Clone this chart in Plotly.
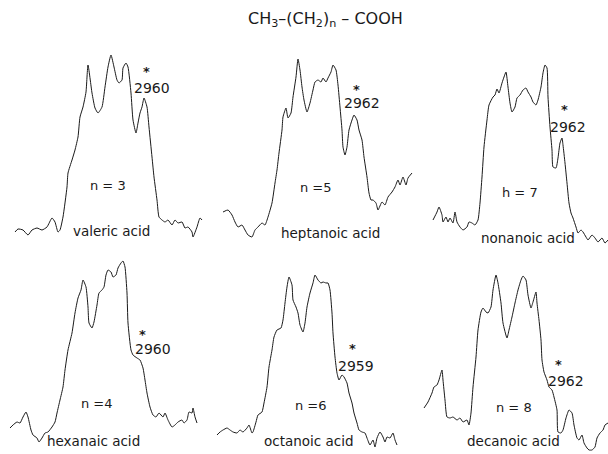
import plotly.graph_objects as go

# Traced spectra (horizontal position, signal level)
valeric_x = [15,18,23,28,32,37,42,47,52,55,58,60,63,67,68,72,75,78,80,83,86,88,92,95,98,102,105,108,111,114,117,119,122,123,126,128,131,133,136,138,140,142,144,147,149,152,154,157,159,162,165,168,172,175,178,182,185,188,192,193,197,200,202]
valeric_y = [232,229,230,235,230,228,230,227,218,222,232,230,217,187,173,160,150,137,117,107,92,65,93,108,113,107,87,67,55,67,80,83,80,68,63,67,93,120,133,123,113,107,98,107,127,157,177,200,217,220,222,220,225,220,223,222,228,227,232,237,227,218,220]

heptanoic_x = [223,228,232,235,238,242,245,248,252,255,258,262,265,268,272,275,277,279,282,283,286,288,291,293,296,298,300,302,304,307,310,313,315,318,321,323,326,328,331,333,336,338,340,342,343,345,347,349,352,354,357,359,362,364,367,369,371,373,376,378,382,385,388,392,395,398,400,403,406,408,412]
heptanoic_y = [212,210,215,222,227,225,230,235,237,230,227,223,225,217,203,183,170,153,130,117,108,118,113,97,77,59,70,87,100,112,103,90,82,80,82,78,82,78,72,65,70,85,107,130,147,155,147,130,120,115,120,130,140,157,177,193,200,200,203,210,202,205,197,192,187,180,185,177,185,178,173]

nonanoic_x = [433,437,439,442,443,446,448,450,453,455,457,460,463,467,469,472,475,478,480,482,484,487,489,493,495,497,499,502,504,506,508,510,512,515,517,520,523,526,528,531,533,536,538,541,543,545,547,548,550,552,553,556,558,560,562,563,565,567,569,571,573,576,578,581,583,586,588,592,595,598,602,605,608]
nonanoic_y = [220,212,207,215,222,217,222,218,223,212,222,227,230,227,222,223,225,220,203,177,147,120,105,97,95,89,93,83,77,72,87,103,112,107,98,95,90,88,92,97,102,105,100,87,73,65,68,97,127,150,167,168,158,143,138,145,163,183,203,213,218,227,233,230,232,237,240,235,238,242,238,243,240]

hexanoic_x = [10,13,17,20,23,26,28,31,33,37,39,42,45,48,52,55,57,60,63,65,68,72,75,78,81,83,86,88,89,92,94,97,99,102,104,106,108,111,113,116,118,121,123,125,127,128,131,133,137,140,143,145,147,150,153,156,159,163,165,168,172,175,178,182,184,187,189,192,193,195,197]
hexanoic_y = [428,425,422,423,417,412,417,430,435,438,442,438,433,432,427,422,413,400,387,370,350,333,313,298,290,280,287,307,323,328,322,305,293,290,287,275,270,272,277,275,268,263,261,267,293,323,350,355,358,360,368,380,393,407,415,417,413,417,413,420,427,425,422,420,423,420,412,413,408,417,423]

octanoic_x = [217,220,223,227,230,233,237,240,243,247,249,252,253,256,258,262,264,267,269,272,274,277,281,283,285,287,289,292,293,296,298,300,303,305,307,310,313,315,318,321,323,326,328,330,332,333,335,337,339,342,344,347,349,352,354,357,359,362,365,367,370,373,375,377,380,383,385,387,390,393,395,397]
octanoic_y = [435,432,430,428,430,432,433,430,432,428,425,433,432,422,415,412,403,387,367,350,337,330,328,320,303,287,277,285,300,307,313,325,332,323,307,293,283,275,280,283,282,283,283,290,313,333,357,373,380,375,377,383,393,403,413,423,430,432,433,438,445,440,447,438,432,437,442,437,438,433,440,445]

decanoic_x = [424,428,432,434,437,439,442,443,445,447,450,453,457,460,463,467,469,471,473,476,478,481,483,486,488,491,493,496,498,501,503,507,509,512,515,518,521,523,526,528,531,533,536,537,539,541,542,544,547,549,552,554,557,558,561,563,566,569,572,574,577,579,582,584,587,589,592,595,597,600,603,605,608]
decanoic_y = [408,402,393,387,385,380,370,380,400,417,418,417,420,418,422,420,425,413,387,357,330,312,308,312,313,307,290,275,283,303,323,338,330,317,303,290,280,276,280,295,308,302,292,303,320,340,360,372,380,387,390,397,410,432,433,430,418,410,413,425,438,440,435,443,448,450,450,447,438,433,430,425,423]

spectra = [
    ("valeric acid", valeric_x, valeric_y),
    ("heptanoic acid", heptanoic_x, heptanoic_y),
    ("nonanoic acid", nonanoic_x, nonanoic_y),
    ("hexanaic acid", hexanoic_x, hexanoic_y),
    ("octanoic acid", octanoic_x, octanoic_y),
    ("decanoic acid", decanoic_x, decanoic_y),
]

# Labels: name, chain length, marked band
names = ["valeric acid", "heptanoic acid", "nonanoic acid", "hexanaic acid", "octanoic acid", "decanoic acid"]
n_labels = ["n = 3", "n =5", "h = 7", "n =4", "n =6", "n = 8"]
bands = ["2960", "2962", "2962", "2960", "2959", "2962"]

name_pos = [(111, 231), (330, 233), (528, 238), (93, 441), (309, 441), (513, 441)]
n_pos = [(108, 185), (316, 187), (520, 192), (97, 403), (311, 405), (514, 407)]
band_pos = [(152, 88), (362, 103), (568, 127), (153, 349), (356, 366), (566, 381)]
star_pos = [(146, 71), (356, 89), (564, 109), (142, 334), (352, 348), (558, 364)]

fig = go.Figure()
for name, xs, ys in spectra:
    fig.add_trace(go.Scatter(x=xs, y=ys, mode="lines", name=name,
                             line=dict(color="#1a1a1a", width=1, shape="spline", smoothing=0.5),
                             hoverinfo="skip", showlegend=False))

ink = "#1a1a1a"
ann = []
for i in range(6):
    ann.append(dict(x=name_pos[i][0], y=name_pos[i][1], text=names[i], showarrow=False,
                    font=dict(family="DejaVu Sans", size=13.5, color=ink)))
    ann.append(dict(x=n_pos[i][0], y=n_pos[i][1], text=n_labels[i], showarrow=False,
                    font=dict(family="DejaVu Sans", size=13, color=ink)))
    ann.append(dict(x=band_pos[i][0], y=band_pos[i][1], text=bands[i], showarrow=False,
                    font=dict(family="DejaVu Sans", size=14, color=ink)))
    ann.append(dict(x=star_pos[i][0], y=star_pos[i][1], text="<b>*</b>", showarrow=False,
                    font=dict(family="DejaVu Sans", size=13, color=ink)))

ann.append(dict(x=325, y=19, text="CH<sub>3</sub>–(CH<sub>2</sub>)<sub>n</sub> – COOH",
                showarrow=False, font=dict(family="DejaVu Sans", size=16, color=ink)))

fig.update_layout(
    width=608, height=454,
    margin=dict(l=0, r=0, t=0, b=0),
    paper_bgcolor="white", plot_bgcolor="white",
    xaxis=dict(range=[0, 608], visible=False, fixedrange=True),
    yaxis=dict(range=[454, 0], visible=False, fixedrange=True),
    annotations=ann,
)
fig.write_html("out.html", config={"displayModeBar": False},
               post_script="document.body.style.margin='0';document.body.style.overflow='hidden';")
